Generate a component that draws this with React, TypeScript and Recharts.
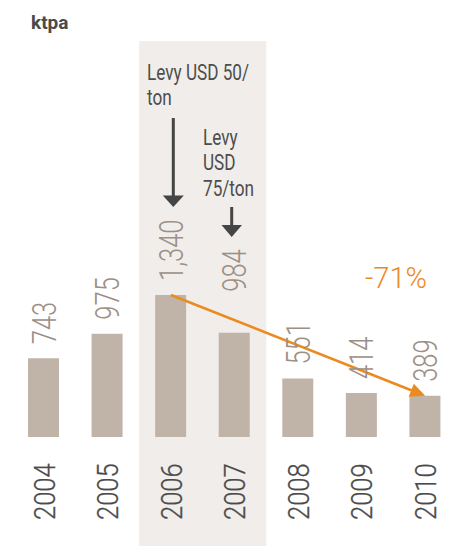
import React from 'react';
import { BarChart, Bar, XAxis, YAxis, ReferenceArea, ReferenceLine, LabelList } from 'recharts';

const years = ['2004', '2005', '2006', '2007', '2008', '2009', '2010'];
const volumes = [743, 975, 1340, 984, 551, 414, 389];
const levyYears = ['2006', '2007'];
const trendFrom = { year: '2006', value: 1340 };
const trendTo = { year: '2010', value: 389 };
const trendText = '-71%';
const unitText = 'ktpa';

const data = years.map((year, i) => ({ year, volume: volumes[i] }));

const FONT = "Roboto, 'Open Sans', sans-serif";
const BAR = '#C0B4A9';
const BAND = '#F0EDEA';
const VALUE_GRAY = '#9C9086';
const YEAR_GRAY = '#4A4A4A';
const DARK = '#454545';
const ORANGE = '#EB8A1E';

// the 2007 label sits higher in the original, clear of the trend arrow
const labelLift: Record<string, number> = { '2007': 27 };

const ValueLabel = (props: any) => {
  const { x, y, width, value, index } = props;
  const lift = labelLift[years[index]] || 0;
  const cx = x + width / 2;
  return (
    <text
      transform={`translate(${cx + 12},${y - 14 - lift}) rotate(-90) scale(0.75,1)`}
      textAnchor="start"
      fontFamily={FONT}
      fontWeight={300}
      fontSize={34}
      fill={VALUE_GRAY}
    >
      {value.toLocaleString('en-US')}
    </text>
  );
};

const YearTick = (props: any) => {
  const { x, y, payload } = props;
  return (
    <text
      transform={`translate(${x + 10.8},${y + 83}) rotate(-90) scale(0.85,1)`}
      textAnchor="start"
      fontFamily={FONT}
      fontWeight={300}
      fontSize={30}
      fill={YEAR_GRAY}
      stroke={YEAR_GRAY}
      strokeWidth={0.3}
    >
      {payload.value}
    </text>
  );
};

const TrendArrow = (props: any) => {
  const { x1, y1, x2, y2 } = props;
  const dx = x2 - x1;
  const dy = y2 - y1;
  const len = Math.sqrt(dx * dx + dy * dy);
  const ux = dx / len;
  const uy = dy / len;
  const head = 15;
  const half = 7;
  const bx = x2 - ux * head;
  const by = y2 - uy * head;
  return (
    <g>
      <line x1={x1} y1={y1} x2={bx + ux * 2} y2={by + uy * 2} stroke={ORANGE} strokeWidth={2.5} />
      <polygon
        points={`${x2},${y2} ${bx - uy * half},${by + ux * half} ${bx + uy * half},${by - ux * half}`}
        fill={ORANGE}
      />
    </g>
  );
};

const Annotations = () => (
  <svg width={467} height={546} style={{ position: 'absolute', left: 0, top: 0, pointerEvents: 'none' }}>
    <text x={31} y={28.5} fontFamily={FONT} fontWeight={700} fontSize={19} fill="#4A4A4A">
      {unitText}
    </text>
    <g fontFamily={FONT} fontSize={22} fill="#4D4D4D">
      <text transform="translate(147,80) scale(0.78,1)">Levy USD 50/</text>
      <text transform="translate(147,105) scale(0.78,1)">ton</text>
      <text transform="translate(203,145) scale(0.78,1)">Levy</text>
      <text transform="translate(203,170) scale(0.78,1)">USD</text>
      <text transform="translate(203,196) scale(0.78,1)">75/ton</text>
    </g>
    <line x1={173.3} y1={118} x2={173.3} y2={197} stroke={DARK} strokeWidth={3} />
    <polygon points="162.8,195.5 183.8,195.5 173.3,207" fill={DARK} />
    <line x1={231.7} y1={207} x2={231.7} y2={226} stroke={DARK} strokeWidth={3} />
    <polygon points="221.5,225 242,225 231.7,237" fill={DARK} />
    <text x={365} y={288} fontFamily={FONT} fontWeight={300} fontSize={29} fill={ORANGE}>
      {trendText}
    </text>
  </svg>
);

export default function App() {
  return (
    <div style={{ position: 'absolute', left: 0, top: 0, width: 467, height: 546 }}>
      <BarChart width={467} height={546} data={data} margin={{ top: 41, right: 10, left: 12, bottom: 0 }}>
        <YAxis hide domain={[0, 3736]} />
        <ReferenceArea
          x1={levyYears[0]}
          x2={levyYears[1]}
          y1={-1030}
          y2={3736}
          ifOverflow="visible"
          fill={BAND}
          fillOpacity={1}
          stroke="none"
        />
        <XAxis
          dataKey="year"
          height={109}
          axisLine={false}
          tickLine={false}
          tickSize={0}
          tickMargin={0}
          interval={0}
          tick={<YearTick />}
        />
        <Bar dataKey="volume" fill={BAR} barSize={31} isAnimationActive={false}>
          <LabelList dataKey="volume" content={<ValueLabel />} />
        </Bar>
        <ReferenceLine
          segment={[
            { x: trendFrom.year, y: trendFrom.value },
            { x: trendTo.year, y: trendTo.value },
          ]}
          shape={<TrendArrow />}
          ifOverflow="visible"
        />
      </BarChart>
      <Annotations />
    </div>
  );
}
